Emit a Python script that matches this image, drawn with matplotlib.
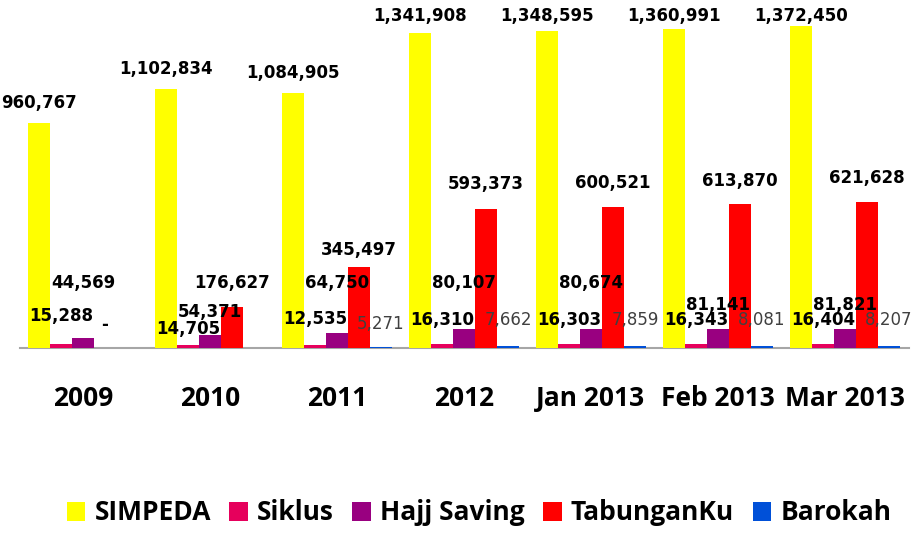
import numpy as np
import matplotlib
matplotlib.use("Agg")
import matplotlib.pyplot as plt

# data
periods = ["2009", "2010", "2011", "2012", "Jan 2013", "Feb 2013", "Mar 2013"]
simpeda = [960767, 1102834, 1084905, 1341908, 1348595, 1360991, 1372450]
siklus = [15288, 14705, 12535, 16310, 16303, 16343, 16404]
hajj = [44569, 54371, 64750, 80107, 80674, 81141, 81821]
tabunganku = [0, 176627, 345497, 593373, 600521, 613870, 621628]
barokah = [np.nan, np.nan, 5271, 7662, 7859, 8081, 8207]

series_names = ["SIMPEDA", "Siklus", "Hajj Saving", "TabunganKu", "Barokah"]
colors = ["#FFFF00", "#E6005C", "#990080", "#FF0000", "#0050D8"]

# label offsets above bar top, in pixels (the original has hand placed labels)
label_dy = [
    [20] * 7,
    [28, 16, 26, 24, 24, 24, 24],
    [55, 23, 50, 46, 46, 24, 24],
    [23, 24, 17, 25, 24, 23, 24],
    [24, 24, 23, 26, 26, 26, 26],
]

W, H = 923, 534
fig = plt.figure(figsize=(W / 100, H / 100), dpi=100)
ax = fig.add_axes([19.5 / W, (H - 348) / H, 889 / W, 348 / H])

ymax = 1482700
ax.set_ylim(0, ymax)
ax.set_xlim(-0.5, len(periods) - 0.5)
px_per_unit = 348 / ymax

x = np.arange(len(periods))
bw = 22 / 127
data = [simpeda, siklus, hajj, tabunganku, barokah]

for i, (vals, name, col) in enumerate(zip(data, series_names, colors)):
    xs = x + (i - 2) * bw
    ax.bar(xs, vals, width=bw, color=col, label=name, zorder=3)
    for j, v in enumerate(vals):
        if np.isnan(v):
            continue
        ly = v + label_dy[i][j] / px_per_unit
        if i == 0:
            ly = min(ly, ymax - 16 / px_per_unit)
        txt = "-" if v == 0 else f"{int(v):,}"
        if i == 4:
            ax.text(xs[j], ly, txt, ha="center", va="center", fontsize=12,
                    color="#404040", family="DejaVu Sans", zorder=5)
        else:
            ax.text(xs[j], ly, txt, ha="center", va="center", fontsize=12,
                    fontweight="bold", color="black", family="DejaVu Sans", zorder=5)

for s in ["top", "left", "right"]:
    ax.spines[s].set_visible(False)
ax.spines["bottom"].set_color("#A6A6A6")
ax.spines["bottom"].set_linewidth(1.5)
ax.set_yticks([])
ax.set_xticks(x)
ax.set_xticklabels(periods, fontsize=19, fontweight="bold", family="Open Sans")
ax.tick_params(axis="x", length=0, pad=27)

fig.legend(loc="center", bbox_to_anchor=(479 / W, (H - 513) / H), ncol=5,
           frameon=False, prop={"family": "Open Sans", "weight": "bold", "size": 19},
           handlelength=0.7, handleheight=0.7, handletextpad=0.35,
           columnspacing=0.7)

fig.savefig("out.png", dpi=100)
